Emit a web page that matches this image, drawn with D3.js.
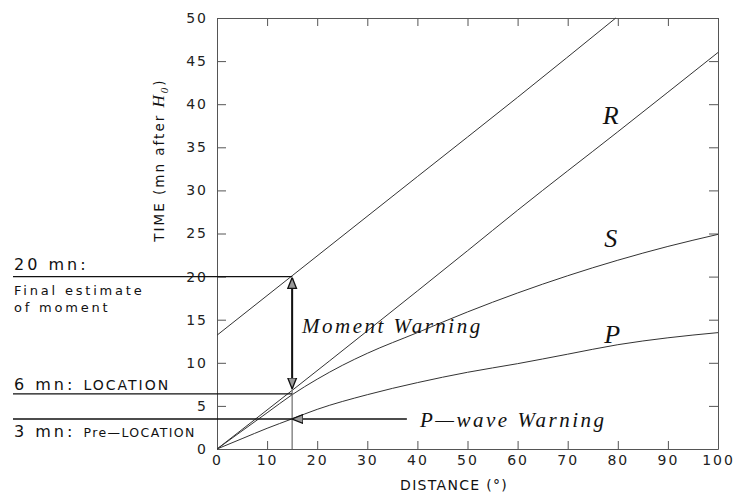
<!DOCTYPE html>
<html>
<head>
<meta charset="utf-8">
<script src="https://cdn.jsdelivr.net/npm/d3@7"></script>
<style>
body { margin:0; background:#fff; }
svg { display:block; }
.tick text { font-family:"DejaVu Sans", sans-serif; font-size:14px; fill:#222; letter-spacing:2px; }
.ital { font-family:"Liberation Serif", "DejaVu Serif", serif; font-style:italic; fill:#111; }
.sans { font-family:"DejaVu Sans", sans-serif; fill:#111; }
</style>
</head>
<body>
<svg id="chart" width="739" height="497"></svg>
<script>
// travel-time curves (distance in degrees, time in minutes)
var distP = [0, 5, 10, 15, 20, 30, 40, 50, 60, 70, 80, 90, 100];
var timeP = [0, 1.2, 2.4, 3.5, 4.6, 6.3, 7.7, 8.9, 9.9, 11.0, 12.1, 12.9, 13.5];
var distS = [0, 5, 10, 15, 20, 25, 30, 40, 50, 60, 70, 80, 90, 100];
var timeS = [0, 2.1, 4.2, 6.3, 8.1, 9.7, 11.1, 13.5, 15.9, 18.1, 20.1, 21.9, 23.5, 24.9];
var distR = [0, 15, 30, 50, 60, 80, 100];
var timeR = [0, 6.8, 13.7, 23.0, 27.7, 36.8, 46.0];
var distM = [0, 15, 40, 60, 79.6];
var timeM = [13.2, 20.1, 31.6, 40.8, 50];

var xTicks = [0, 10, 20, 30, 40, 50, 60, 70, 80, 90, 100];
var yTicks = [0, 5, 10, 15, 20, 25, 30, 35, 40, 45, 50];

var warnDist = 15;      // station distance for the warnings
var momentTime = 20;    // final moment estimate
var locTime = 6.4;      // location line
var preLocTime = 3.48;  // pre-location line

var svg = d3.select("#chart");
var x = d3.scaleLinear().domain([0, 100]).range([217, 718]);
var y = d3.scaleLinear().domain([0, 50]).range([449, 18]);

var frame = "#555";

// axes, ticks inward on all sides
function styleAxis(g) {
  g.select(".domain").attr("stroke", frame);
  g.selectAll(".tick line").attr("stroke", frame);
}
svg.append("g").attr("transform", "translate(0,449)")
  .call(d3.axisBottom(x).tickValues(xTicks).tickSizeInner(-8).tickSizeOuter(0).tickPadding(6))
  .call(styleAxis);
svg.append("g").attr("transform", "translate(0,18)")
  .call(d3.axisTop(x).tickValues(xTicks).tickSizeInner(-8).tickSizeOuter(0).tickFormat(""))
  .call(styleAxis);
svg.append("g").attr("transform", "translate(217,0)")
  .call(d3.axisLeft(y).tickValues(yTicks).tickSizeInner(-9).tickSizeOuter(0).tickPadding(9))
  .call(styleAxis);
svg.append("g").attr("transform", "translate(718,0)")
  .call(d3.axisRight(y).tickValues(yTicks).tickSizeInner(-9).tickSizeOuter(0).tickFormat(""))
  .call(styleAxis);
svg.selectAll(".tick text").attr("font-family", null).attr("font-size", null);

// axis titles
svg.append("text").attr("class", "sans").attr("x", 454).attr("y", 490)
  .attr("text-anchor", "middle").style("font-size", "14px").style("letter-spacing", "1.3px")
  .text("DISTANCE (°)");
var yt = svg.append("text").attr("class", "sans")
  .attr("transform", "translate(164,160) rotate(-90)")
  .attr("text-anchor", "middle").style("font-size", "13.5px").style("letter-spacing", "2px");
yt.append("tspan").text("TIME (mn after ");
yt.append("tspan").attr("class", "ital").style("font-size", "17px").text("H");
yt.append("tspan").attr("class", "ital").style("font-size", "11px").attr("dy", 4).text("0");
yt.append("tspan").attr("dy", -4).text(")");

// curves
var line = d3.line().x(function(d) { return x(d[0]); }).y(function(d) { return y(d[1]); })
  .curve(d3.curveMonotoneX);
function curve(ds, ts) {
  svg.append("path").datum(d3.zip(ds, ts)).attr("d", line)
    .attr("fill", "none").attr("stroke", "#333").attr("stroke-width", 1);
}
curve(distP, timeP);
curve(distS, timeS);
curve(distR, timeR);
curve(distM, timeM);

// curve labels
svg.append("text").attr("class", "ital").attr("x", x(77)).attr("y", 124).style("font-size", "26px").text("R");
svg.append("text").attr("class", "ital").attr("x", x(77.3)).attr("y", 247).style("font-size", "26px").text("S");
svg.append("text").attr("class", "ital").attr("x", x(77.3)).attr("y", 343).style("font-size", "26px").text("P");

// guide lines
svg.append("line").attr("x1", x(warnDist)).attr("x2", x(warnDist))
  .attr("y1", y(0)).attr("y2", y(momentTime)).attr("stroke", "#777").attr("stroke-width", 1.3);
[momentTime, locTime, preLocTime].forEach(function(t) {
  svg.append("line").attr("x1", 13).attr("x2", x(warnDist))
    .attr("y1", y(t)).attr("y2", y(t)).attr("stroke", "#111").attr("stroke-width", 1.3);
});

// arrow heads
var defs = svg.append("defs");
defs.append("marker").attr("id", "head").attr("viewBox", "0 0 10 10")
  .attr("refX", 9).attr("refY", 5).attr("markerWidth", 11).attr("markerHeight", 11)
  .attr("markerUnits", "userSpaceOnUse").attr("orient", "auto-start-reverse")
  .append("path").attr("d", "M0,1 L10,5 L0,9 Z")
  .attr("fill", "#999").attr("stroke", "#111").attr("stroke-width", 1.2);

// moment warning arrow
svg.append("line").attr("x1", x(warnDist)).attr("x2", x(warnDist))
  .attr("y1", y(momentTime) + 2).attr("y2", y(7.1))
  .attr("stroke", "#111").attr("stroke-width", 2)
  .attr("marker-start", "url(#head)").attr("marker-end", "url(#head)");
svg.append("text").attr("class", "ital").attr("x", 302).attr("y", 333)
  .style("font-size", "21px").style("letter-spacing", "2.5px").text("Moment Warning");

// P-wave warning arrow
svg.append("line").attr("x1", x(37.9)).attr("x2", x(warnDist) + 1)
  .attr("y1", y(preLocTime)).attr("y2", y(preLocTime))
  .attr("stroke", "#111").attr("stroke-width", 1.3)
  .attr("marker-end", "url(#head)");
svg.append("text").attr("class", "ital").attr("x", 420).attr("y", 427)
  .style("font-size", "21px").style("letter-spacing", "2.5px").text("P\u2014wave Warning");

// left annotations
svg.append("text").attr("class", "sans").attr("x", 14).attr("y", 270)
  .style("font-size", "16px").style("letter-spacing", "3px").text("20 mn:");
svg.append("text").attr("class", "sans").attr("x", 14).attr("y", 295)
  .style("font-size", "13px").style("letter-spacing", "2.8px").text("Final estimate");
svg.append("text").attr("class", "sans").attr("x", 14).attr("y", 312)
  .style("font-size", "13px").style("letter-spacing", "2.8px").text("of moment");
var t6 = svg.append("text").attr("class", "sans").attr("x", 14).attr("y", 390).style("letter-spacing", "3px");
t6.append("tspan").style("font-size", "16px").text("6 mn: ");
t6.append("tspan").style("font-size", "14px").style("letter-spacing", "2px").text("LOCATION");
var t3 = svg.append("text").attr("class", "sans").attr("x", 14).attr("y", 437).style("letter-spacing", "3px");
t3.append("tspan").style("font-size", "16px").text("3 mn: ");
t3.append("tspan").style("font-size", "12.5px").style("letter-spacing", "1.4px").text("Pre\u2014LOCATION");
</script>
</body>
</html>
